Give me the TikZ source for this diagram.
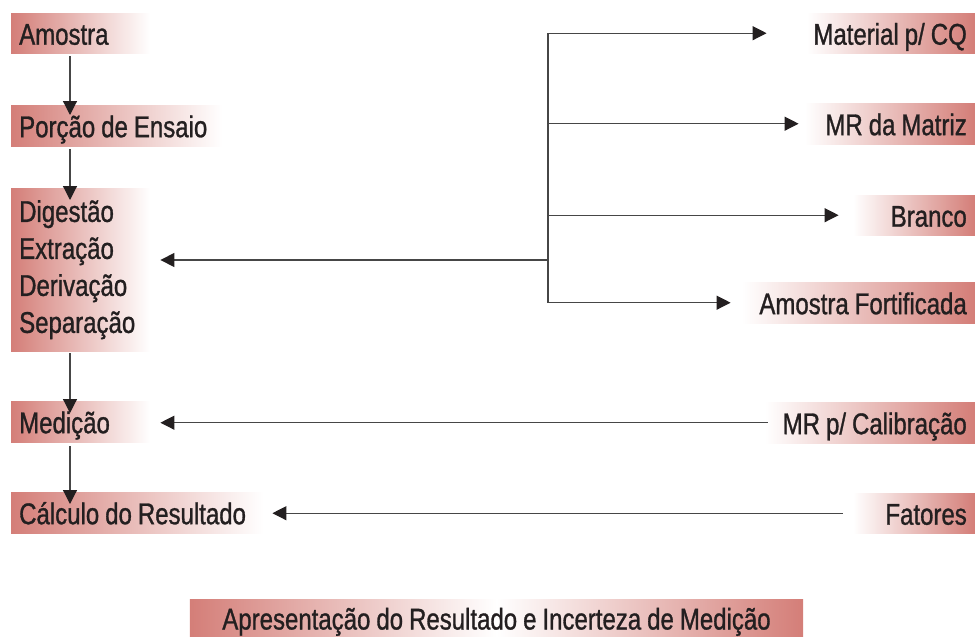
\documentclass[tikz,border=0pt]{standalone}
\usepackage{fontspec}
\setmainfont[FakeStretch=0.8,FakeBold=1.0,WordSpace=0.9]{Liberation Sans}
\usetikzlibrary{arrows.meta,calc,backgrounds}
\definecolor{rose}{RGB}{212,126,120}
\definecolor{ink}{RGB}{35,31,32}
\definecolor{wire}{RGB}{70,70,70}
\newcommand{\lt}[2]{\makebox[#1][l]{#2}}
\newcommand{\rt}[2]{\makebox[#1][r]{#2}}
\begin{document}
\begin{tikzpicture}[x=1pt,y=-1pt,
  box/.style={rectangle, inner xsep=8pt, inner ysep=0pt, minimum height=40pt, text=ink, font=\fontsize{30}{37}\selectfont},
  one/.style={text height=25pt, text depth=2pt},
  lbox/.style={box, anchor=north west, left color=rose, right color=white},
  rbox/.style={box, anchor=north east, left color=white, right color=rose},
  cbox/.style={box},
  wireline/.style={draw=wire, line width=1.2pt},
  arr/.style={wireline, -{Triangle[length=14pt,width=14pt,color=ink]}}
]
\useasboundingbox (0,0) rectangle (975,637);

% left column
\node[lbox, one] (amostra) at (11,13) {\lt{123pt}{Amostra}};
\node[lbox, one, minimum height=41pt] (porcao) at (11,105) {\lt{195pt}{Porção de Ensaio}};
\node[lbox, align=left, minimum height=163pt] (digest) at (11,188) {\lt{123pt}{Digestão}\\\lt{123pt}{Extração}\\\lt{123pt}{Derivação}\\\lt{123pt}{Separação}};
\node[lbox, one, minimum height=41pt] (medicao) at (11,401) {\lt{123pt}{Medição}};
\node[lbox, one, minimum height=41pt] (calculo) at (11,492) {\lt{236pt}{Cálculo do Resultado}};

% right column
\node[rbox, one] (material) at (975,13) {\rt{152pt}{Material p/ CQ}};
\node[rbox, one, minimum height=41pt] (matriz) at (975,103) {\rt{154pt}{MR da Matriz}};
\node[rbox, one] (branco) at (975,195) {\rt{106pt}{Branco}};
\node[rbox, one, minimum height=41pt] (fortif) at (975,282) {\rt{217pt}{Amostra Fortificada}};
\node[rbox, one, minimum height=41pt] (calib) at (975,402) {\rt{194pt}{MR p/ Calibração}};
\node[rbox, one] (fatores) at (975,493) {\rt{106pt}{Fatores}};

% bottom
\node[cbox, one, minimum width=613pt, minimum height=36pt] (final) at (496.5,618) {Apresentação do Resultado e Incerteza de Medição};
\begin{scope}[on background layer]
  \shade[left color=rose, right color=white] (final.south west) rectangle (final.north);
  \shade[left color=white, right color=rose] (final.south) rectangle (final.north east);
\end{scope}

% helper coordinates
\coordinate (vx) at (70,0);
\coordinate (bx) at (548,0);
\coordinate (bj) at (548,260);

% vertical chain
\draw[arr] ($(amostra.south -| vx)+(0,3)$) -- ($(porcao.north -| vx)+(0,10)$);
\draw[arr] ($(porcao.south -| vx)+(0,3)$) -- ($(digest.north -| vx)+(0,12)$);
\draw[arr] ($(digest.south -| vx)+(0,2)$) -- ($(medicao.north -| vx)+(0,12)$);
\draw[arr] ($(medicao.south -| vx)+(0,4)$) -- ($(calculo.north -| vx)+(0,12)$);

% branch
\draw[wireline, line cap=rect] (bx |- material.west) -- (bx |- fortif.west);
\draw[arr] (bx |- material.west) -- ($(material.west)+(-40,0)$);
\draw[arr] (bx |- matriz.west) -- ($(matriz.west)+(-6,0)$);
\draw[arr] (bx |- branco.west) -- ($(branco.west)+(-14,0)$);
\draw[arr] (bx |- fortif.west) -- ($(fortif.west)+(-11,0)$);
\draw[arr] (bj) -- ($(bj -| digest.east)+(10,0)$);

% inputs
\draw[arr] ($(calib.west)+(3,0)$) -- ($(calib.west -| medicao.east)+(10,0)$);
\draw[arr] ($(fatores.west)+(-10,0)$) -- ($(fatores.west -| calculo.east)+(9,0)$);
\end{tikzpicture}
\end{document}
